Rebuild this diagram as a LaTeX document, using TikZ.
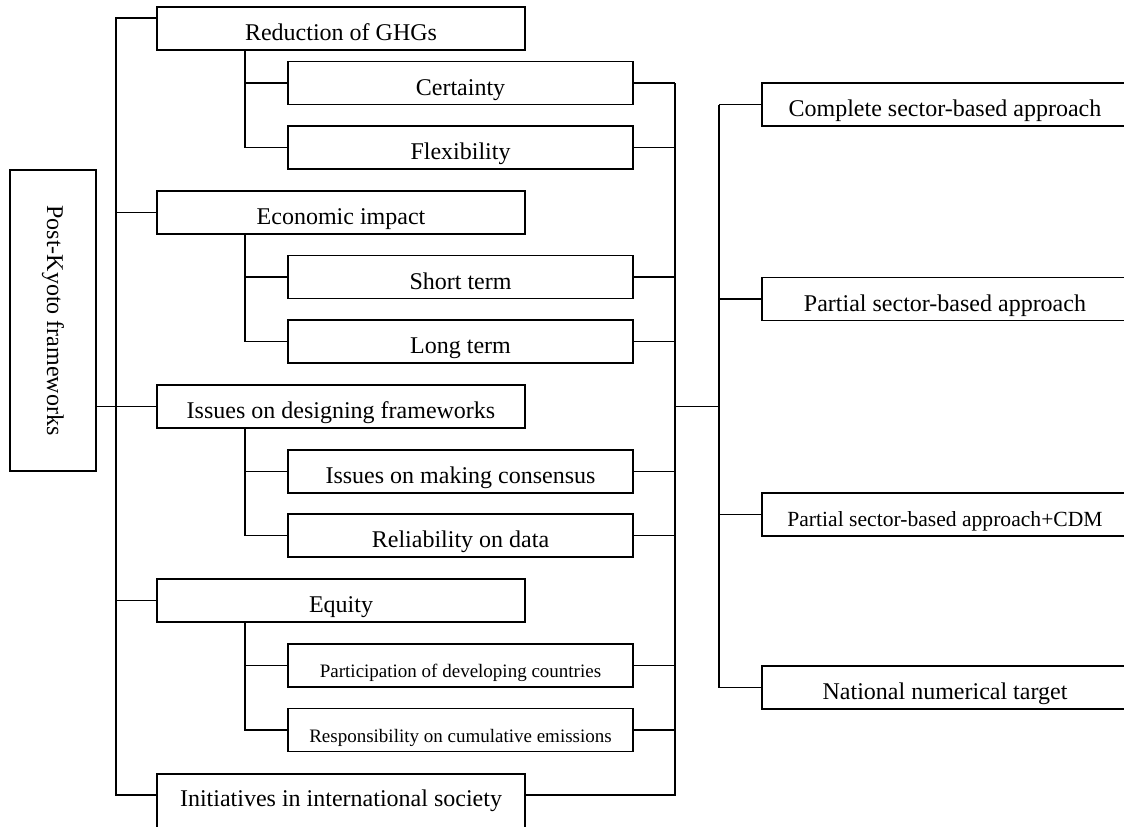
\documentclass[tikz,border=0pt]{standalone}
\usepackage{fontspec}
\setmainfont{Liberation Serif}
\usepackage{tikz}
\usetikzlibrary{calc,positioning}
\tikzset{
    branch/.style={draw, line width=0.8pt},
    topic/.style={
        rectangle,
        draw, line width=0.8pt,
        minimum width=184pt,
        minimum height=21.5pt,
        inner sep=0pt,
        text height=14pt, text depth=2pt,
        font={\fontsize{12pt}{14}\selectfont}
    },
    subtopic/.style={topic, minimum width=172.5pt},
    smalltext/.style={font={\fontsize{9.5pt}{11}\selectfont}},
    approach/.style={topic, minimum width=183pt},
}

\begin{document}
\begin{tikzpicture}[x=0.5pt, y=-0.5pt]

\useasboundingbox (0,0) rectangle (1124,826);
\clip (0,0) rectangle (1124,826);

\node [topic, rotate=-90, text height=, text depth=, minimum width=150.5pt, minimum height=43pt] (root) at (53,320.5) {Post-Kyoto frameworks};

\foreach \n/\y/\l in {red/28.5/Reduction of GHGs, eco/212.5/Economic impact,
    iss/406.5/Issues on designing frameworks, equ/600.5/Equity}
  \node [topic] (\n) at (341,\y) {\l};

\node [topic, anchor=north, text height=16.5pt, text depth=20pt] (ini) at (341,773) {Initiatives in international society};

\foreach \n/\y/\l in {cer/83/Certainty, fle/147.5/Flexibility, sho/277/Short term,
    lon/341.5/Long term, con/471.5/Issues on making consensus, rel/535.5/Reliability on data}
  \node [subtopic] (\n) at (460.5,\y) {\l};

\foreach \n/\y/\l in {par/665.5/Participation of developing countries,
    res/730/Responsibility on cumulative emissions}
  \node [subtopic, smalltext] (\n) at (460.5,\y) {\l};

\foreach \n/\y/\l in {com/104.5/Complete sector-based approach,
    pas/299/Partial sector-based approach, nat/687.5/National numerical target}
  \node [approach] (\n) at (945,\y) {\l};

\node [approach, font={\fontsize{10.8pt}{13}\selectfont}] (cdm) at (945,514.5) {Partial sector-based approach+CDM};

\coordinate (trunk-top) at (116,18);
\coordinate (trunk-end) at (116,795);
\coordinate (spine) at (245,0);
\coordinate (collect) at (675,0);
\coordinate (fan) at (719,0);

% left trunk
\draw [branch] (trunk-top -| red.west) -- (trunk-top) -- (trunk-end) -- (trunk-end -| ini.west);
\foreach \n in {eco, iss, equ}
  \draw [branch] (trunk-top |- \n.west) -- (\n.west);
\draw [branch] (root.north |- iss.west) -- (trunk-top |- iss.west);

% sub spines
\foreach \t/\a/\b in {red/cer/fle, eco/sho/lon, iss/con/rel, equ/par/res}
  \draw [branch] (\t.south -| spine) |- (\b.west)
                 (spine |- \a.west) -- (\a.west);

% right side
\foreach \n in {cer, fle, sho, lon, con, rel, par, res}
  \draw [branch] (\n.east) -- (collect |- \n.east);
\draw [branch] (collect |- cer.east) -- (collect |- trunk-end) -- (ini.east |- trunk-end);
\draw [branch] (collect |- iss.east) -- (fan |- iss.east);
\draw [branch] (fan |- com.west) -- (fan |- nat.west);
\foreach \n in {com, pas, cdm, nat}
  \draw [branch] (fan |- \n.west) -- (\n.west);

\end{tikzpicture}
\end{document}
